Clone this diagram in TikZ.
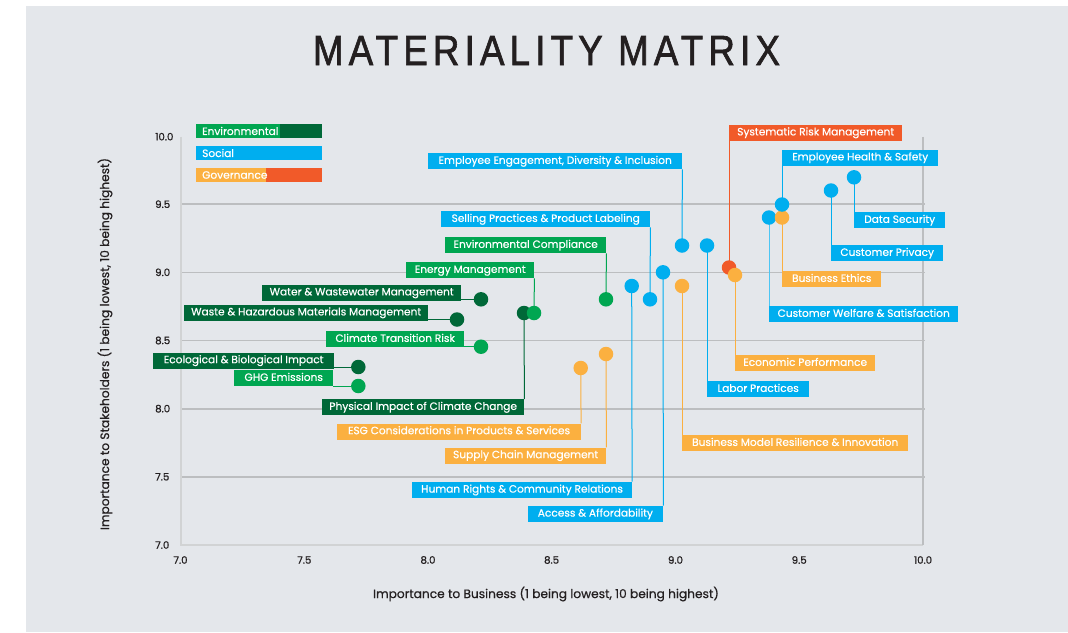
\documentclass[tikz,border=0pt]{standalone}
\usepackage{fontspec}
\usepackage{graphicx}
\setmainfont{Poppins}
\newfontfamily\titlefont{Liberation Sans}[LetterSpace=14, FakeBold=1.6]
\newfontfamily\medfont{Poppins}[FakeBold=0.6]
\newfontfamily\tickfont{Poppins}[FakeBold=0.9]
\definecolor{bggray}{HTML}{E4E7EB}
\definecolor{gridgray}{HTML}{BCBEC0}
\definecolor{framegray}{HTML}{D1D3D4}
\definecolor{ink}{HTML}{231F20}
\definecolor{envL}{HTML}{00A651}
\definecolor{envD}{HTML}{006838}
\definecolor{soc}{HTML}{00AEEF}
\definecolor{govO}{HTML}{FBB040}
\definecolor{govR}{HTML}{F15A29}
\pgfdeclarelayer{back}
\pgfdeclarelayer{lines}
\pgfsetlayers{back,lines,main}
\tikzset{
  lbl/.style={anchor=north west, inner sep=0pt, minimum height=16pt, text=white,
    font=\medfont\fontsize{10.6}{12}\selectfont, text height=7.4pt, text depth=2pt},
  dotn/.style={circle, inner sep=0pt, minimum size=14.5pt},
  conn/.style={line width=1pt},
  tick/.style={inner sep=0pt, text=ink, font=\tickfont\fontsize{10.2}{11}\selectfont},
  axtitle/.style={inner sep=0pt, text=ink, font=\medfont\fontsize{12.2}{14}\selectfont},
  legtext/.style={anchor=west, inner sep=0pt, text=white, font=\medfont\fontsize{10.6}{12}\selectfont},
  grid/.style={gridgray, line width=1.6pt}
}
\begin{document}
\begin{tikzpicture}[x=1pt,y=-1pt]
\useasboundingbox (0,0) rectangle (1068,632);
\begin{pgfonlayer}{back}
\fill[white] (0,0) rectangle (1068,632);
\fill[bggray] (25.7,6) rectangle (1068,632);
% grid
\foreach \gy in {204.2,272.3,340.5,408.7,476.8}{\draw[grid] (181,\gy) -- (925,\gy);}
\draw[framegray, line width=1.5pt] (181,136.7) -- (181,545) -- (923,545);
\draw[gridgray, line width=1.2pt] (923,136.7) -- (923,545);
\end{pgfonlayer}

% title
\node[inner sep=0pt, text=ink] (title) at (546.5,50.5) {\resizebox{467pt}{29pt}{\titlefont MATERIALITY MATRIX}};

% legend
\fill[envL] (196,124) rectangle (280,138);
\fill[envD] (280,124) rectangle (321.5,138);
\fill[soc] (196,146) rectangle (321.5,160);
\fill[govO] (196,168) rectangle (266,182);
\fill[govR] (266,168) rectangle (321.5,182);
\node[legtext] (legE) at (202,131) {Environmental};
\node[legtext] (legS) at (202,153) {Social};
\node[legtext] (legG) at (202,175) {Governance};

% ticks
\node[tick, anchor=west] (y100) at (155,136.7) {10.0};
\node[tick, anchor=west] (y95) at (155,204.2) {9.5};
\node[tick, anchor=west] (y90) at (155,272.3) {9.0};
\node[tick, anchor=west] (y85) at (155,340.5) {8.5};
\node[tick, anchor=west] (y80) at (155,408.7) {8.0};
\node[tick, anchor=west] (y75) at (155,476.8) {7.5};
\node[tick, anchor=west] (y70) at (155,545) {7.0};
\node[tick] (x70) at (180.5,560) {7.0};
\node[tick] (x75) at (304.3,560) {7.5};
\node[tick] (x80) at (428,560) {8.0};
\node[tick] (x85) at (551.6,560) {8.5};
\node[tick] (x90) at (675.5,560) {9.0};
\node[tick] (x95) at (799.2,560) {9.5};
\node[tick] (x100) at (923,560) {10.0};
\node[axtitle] (xt) at (546,594) {Importance to Business (1 being lowest, 10 being highest)};
\node[axtitle, rotate=90] (yt) at (105,344) {Importance to Stakeholders (1 being lowest, 10 being highest)};

% label boxes
\node[lbl, fill=govR, minimum width=173pt] (bSR) at (729,124.5) {Systematic Risk Management};
\node[lbl, fill=soc, minimum width=156pt] (bEH) at (782,149.5) {Employee Health \& Safety};
\node[lbl, fill=soc, minimum width=254pt] (bEE) at (428,153) {Employee Engagement, Diversity \& Inclusion};
\node[lbl, fill=soc, minimum width=209pt] (bSP) at (441,211) {Selling Practices \& Product Labeling};
\node[lbl, fill=soc, minimum width=91pt] (bDS) at (854,212) {Data Security};
\node[lbl, fill=envL, minimum width=161pt] (bEC) at (445,237) {Environmental Compliance};
\node[lbl, fill=soc, minimum width=112pt] (bCP) at (831,245) {Customer Privacy};
\node[lbl, fill=envL, minimum width=128pt] (bEM) at (406,262) {Energy Management};
\node[lbl, fill=govO, minimum width=99pt] (bBE) at (782,271) {Business Ethics};
\node[lbl, fill=envD, minimum width=199pt] (bWW) at (262,284.5) {Water \& Wastewater Management};
\node[lbl, fill=envD, minimum width=244pt] (bWH) at (184,304.5) {Waste \& Hazardous Materials Management};
\node[lbl, fill=soc, minimum width=189pt] (bCW) at (769,306) {Customer Welfare \& Satisfaction};
\node[lbl, fill=envL, minimum width=138pt] (bCT) at (326,331) {Climate Transition Risk};
\node[lbl, fill=envD, minimum width=181pt] (bEB) at (153,352.3) {Ecological \& Biological Impact};
\node[lbl, fill=govO, minimum width=140pt] (bEP) at (735,355) {Economic Performance};
\node[lbl, fill=envL, minimum width=99pt] (bGH) at (234,370) {GHG Emissions};
\node[lbl, fill=soc, minimum width=102pt] (bLP) at (707,381) {Labor Practices};
\node[lbl, fill=envD, minimum width=202pt] (bPI) at (322,399) {Physical Impact of Climate Change};
\node[lbl, fill=govO, minimum width=243.7pt] (bESG) at (337,423.3) {ESG Considerations in Products \& Services};
\node[lbl, fill=govO, minimum width=226pt] (bBM) at (682,435) {Business Model Resilience \& Innovation};
\node[lbl, fill=govO, minimum width=161pt] (bSC) at (445,447.3) {Supply Chain Management};
\node[lbl, fill=soc, minimum width=219.7pt] (bHR) at (412,481.7) {Human Rights \& Community Relations};
\node[lbl, fill=soc, minimum width=135.7pt] (bAA) at (527.3,505.7) {Access \& Affordability};

% dots
\node[dotn, fill=envD] (dPI) at (524,313) {};
\node[dotn, fill=envL] (dEM) at (534,313) {};
\node[dotn, fill=envD] (dWW) at (481,299.3) {};
\node[dotn, fill=envD] (dWH) at (457,319.5) {};
\node[dotn, fill=envL] (dCT) at (481,346.7) {};
\node[dotn, fill=envD] (dEB) at (358.3,367) {};
\node[dotn, fill=envL] (dGH) at (358.3,386) {};
\node[dotn, fill=envL] (dEC) at (606,299.3) {};
\node[dotn, fill=govO] (dESG) at (580.7,368) {};
\node[dotn, fill=govO] (dSC) at (606,354) {};
\node[dotn, fill=soc] (dHR) at (631.7,286) {};
\node[dotn, fill=soc] (dSP) at (650,299.3) {};
\node[dotn, fill=soc] (dAA) at (663,272.3) {};
\node[dotn, fill=govO] (dBM) at (682,286) {};
\node[dotn, fill=soc] (dEE) at (682,245.5) {};
\node[dotn, fill=soc] (dLP) at (707,245.5) {};
\node[dotn, fill=govR] (dSR) at (729,267.5) {};
\node[dotn, fill=govO] (dEP) at (735,275) {};
\node[dotn, fill=soc] (dCW) at (769,217.5) {};
\node[dotn, fill=govO] (dBE) at (782,217.5) {};
\node[dotn, fill=soc] (dEH) at (782,204.5) {};
\node[dotn, fill=soc] (dCP) at (831,190.5) {};
\node[dotn, fill=soc] (dDS) at (854,177.3) {};

% connectors
\begin{pgfonlayer}{lines}
\draw[conn, govR] (bSR.south west) -- (dSR.center);
\draw[conn, soc] (bEH.south west) -- (dEH.center);
\draw[conn, soc] (bEE.south east) -- (dEE.center);
\draw[conn, soc] (bSP.south east) -- (dSP.center);
\draw[conn, soc] (bDS.north west) -- (dDS.center);
\draw[conn, envL] (bEC.south east) -- (dEC.center);
\draw[conn, soc] (bCP.north west) -- (dCP.center);
\draw[conn, envL] (bEM.south east) -- (dEM.center);
\draw[conn, govO] (bBE.north west) -- (dBE.center);
\draw[conn, envD] (bWW.east |- dWW.center) -- (dWW.center);
\draw[conn, envD] (bWH.east |- dWH.center) -- (dWH.center);
\draw[conn, soc!70!white] (bCW.north west) -- (dCW.center);
\draw[conn, envL] (bCT.east |- dCT.center) -- (dCT.center);
\draw[conn, envD] (bEB.east |- dEB.center) -- (dEB.center);
\draw[conn, govO] (bEP.north west) -- (dEP.center);
\draw[conn, envL] (bGH.east |- dGH.center) -- (dGH.center);
\draw[conn, soc] (bLP.north west) -- (dLP.center);
\draw[conn, envD] (bPI.north east) -- (dPI.center);
\draw[conn, govO] (bESG.north east) -- (dESG.center);
\draw[conn, govO] (bBM.north west) -- (dBM.center);
\draw[conn, govO] (bSC.north east) -- (dSC.center);
\draw[conn, soc] (bHR.north east) -- (dHR.center);
\draw[conn, soc] (bAA.north east) -- (dAA.center);
\end{pgfonlayer}
\end{tikzpicture}
\end{document}
